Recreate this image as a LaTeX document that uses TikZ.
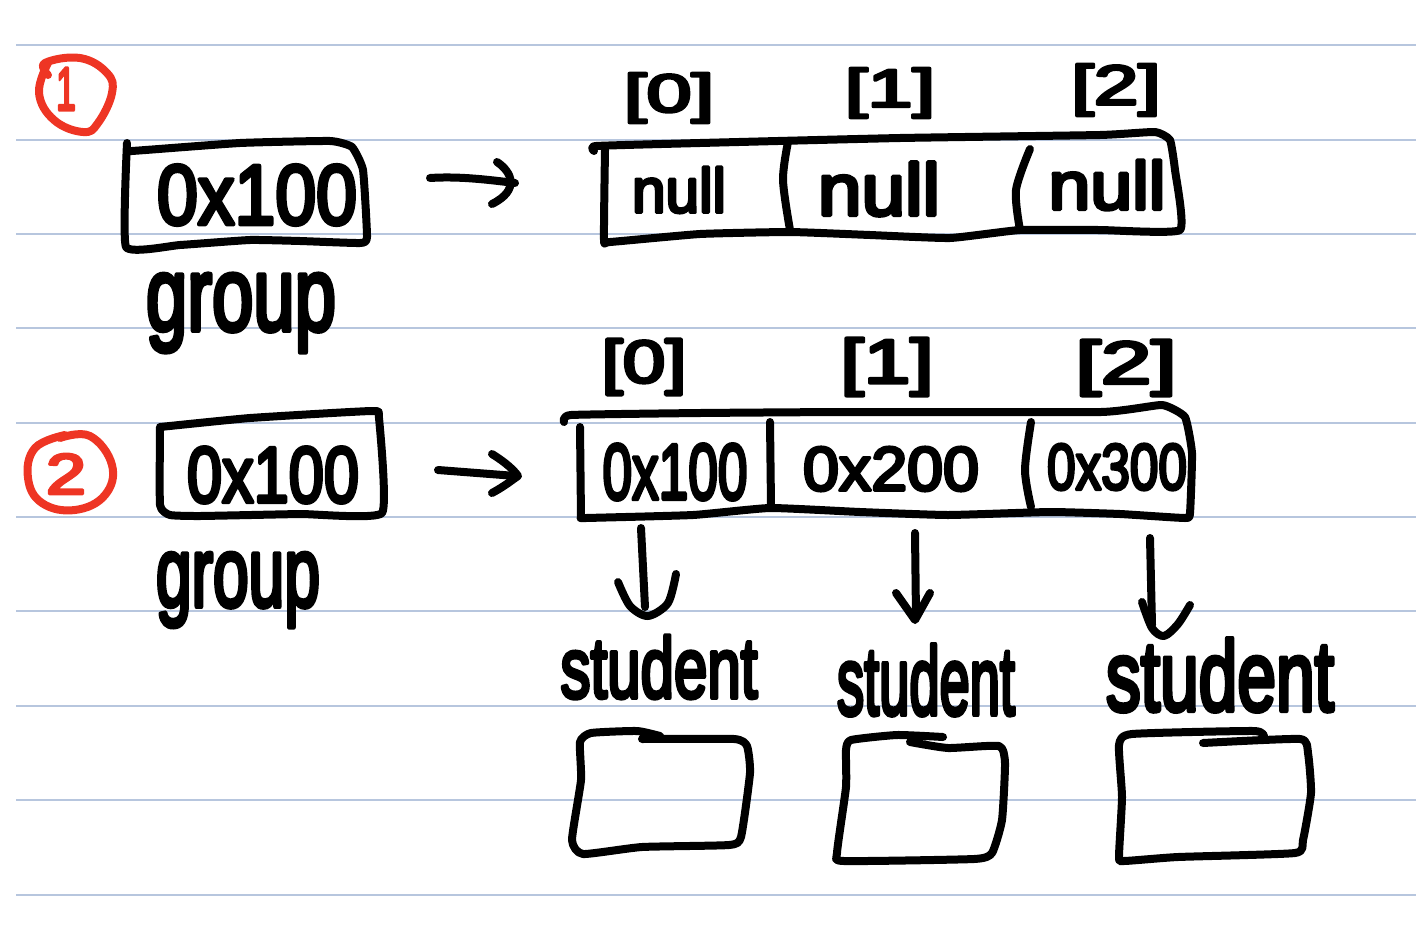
\documentclass[tikz,border=0pt]{standalone}
\usepackage{graphicx}
\usepackage{fontspec}
\setmainfont{Liberation Sans}
\definecolor{rule}{HTML}{B7C6DE}
\definecolor{redpen}{HTML}{EE3524}
\newcommand{\hw}[3]{\resizebox*{#1pt}{#2pt}{\special{pdf:code q 0 G 2 Tr 5 w 1 J 1 j}\scalebox{1}{#3}\special{pdf:code 0 Tr Q}}}
\newcommand{\hwr}[3]{\resizebox*{#1pt}{#2pt}{\special{pdf:code q 0.933 0.208 0.141 RG 2 Tr 5 w 1 J 1 j}\scalebox{1}{#3}\special{pdf:code 0 Tr Q}}}
\tikzset{
  pen/.style={draw=black,line width=8pt,line cap=round,line join=round},
  redstroke/.style={draw=redpen,line width=8pt,line cap=round,line join=round},
  ruled/.style={draw=rule,line width=1.3pt},
  hand/.style={inner sep=0pt,outer sep=0pt,text=black,font=\fontsize{100}{100}\selectfont},
  redhand/.style={inner sep=0pt,outer sep=0pt,text=redpen,font=\fontsize{100}{100}\selectfont}
}
\begin{document}
\begin{tikzpicture}[x=1pt,y=-1pt]
\useasboundingbox (0,0) rectangle (1416,932);
\foreach \yy in {45,140,234,328,423,517,611,706,800,895}
  \draw[ruled] (16,\yy) -- (1416,\yy);

% red marks
\draw[redstroke] plot[smooth,tension=0.7] coordinates {(48,75)(45,63)(80,58)(107,73)(112,93)(98,123)(83,132)(54,120)(39,93)(48,63)};
\node[redhand] (mone) at (66,89) {\hwr{20}{42}{1}};
\draw[redstroke] plot[smooth,tension=0.7] coordinates {(60,438)(90,436)(112,465)(105,495)(75,510)(42,503)(28,478)(35,448)(65,435)};
\node[redhand] (mtwo) at (66,474) {\hwr{40}{40}{2}};

% upper group box
\draw[pen] plot[smooth,tension=0.25] coordinates {(127,143)(127,150)(132,151)(240,143)(330,141)(352,147)(363,170)(367,237)(360,243)(300,241)(250,240)(180,245)(126,247)(127,143)};
\node[hand] (valA) at (257,195) {\hw{200}{60}{0x100}};
\node[hand] (grpA) at (241,313) {\hw{190}{78}{group}};

% upper arrow
\coordinate (aS) at (430,178);
\coordinate (aE) at (515,183);
\draw[pen] (aS) .. controls (460,176) and (490,180) .. (aE);
\draw[pen] (aE) ++(-18,-21) .. controls (512,172) and (520,190) .. (492,204);

% upper array
\draw[pen] plot[smooth,tension=0.25] coordinates {(594,151)(596,146)(700,143)(900,138)(1100,135)(1155,132)(1170,140)(1175,170)(1180,230)(1100,230)(1020,230)(950,238)(870,235)(790,232)(700,234)(610,242)(604,240)(605,150)};
\draw[pen] plot[smooth] coordinates {(788,142)(783,180)(790,230)};
\draw[pen] plot[smooth] coordinates {(1030,149)(1016,190)(1020,230)};
\node[hand] (nA) at (679,190) {\hw{94}{46}{null}};
\node[hand] (nB) at (879,189) {\hw{122}{54}{null}};
\node[hand] (nC) at (1107,185) {\hw{117}{50}{null}};
\node[hand] (iA) at (669,98) {\hw{90}{50}{[0]}};
\node[hand] (iB) at (890,93) {\hw{90}{50}{[1]}};
\node[hand] (iC) at (1116,90) {\hw{89}{52}{[2]}};

% lower group box
\draw[pen] plot[smooth,tension=0.25] coordinates {(160,427)(250,418)(372,411)(379,418)(382,513)(300,514)(200,516)(170,515)(160,505)(160,427)};
\node[hand] (valB) at (273,475) {\hw{172}{56}{0x100}};
\node[hand] (grpB) at (238,590) {\hw{164}{74}{group}};

% lower arrow
\coordinate (bS) at (438,470);
\coordinate (bE) at (516,476);
\draw[pen] (bS) -- (bE);
\draw[pen] (bE) ++(-24,-22) .. controls (505,462) and (514,470) .. (518,476) .. controls (512,480) and (505,486) .. (492,493);

% lower array
\draw[pen] plot[smooth,tension=0.25] coordinates {(564,422)(571,415)(700,413)(846,412)(1101,412)(1162,405)(1185,417)(1192,453)(1190,513)(1185,518)(1120,514)(1050,512)(948,515)(860,512)(770,508)(693,515)(586,518)(581,518)};
\draw[pen] (581,518) -- (580,427);
\draw[pen] (770,422) -- (771,505);
\draw[pen] plot[smooth] coordinates {(1031,422)(1025,470)(1031,507)};
\node[hand] (pA) at (675,472) {\hw{145}{56}{0x100}};
\node[hand] (pB) at (891,469) {\hw{176}{44}{0x200}};
\node[hand] (pC) at (1117,467) {\hw{140}{46}{0x300}};
\node[hand] (jA) at (644,367) {\hw{85}{56}{[0]}};
\node[hand] (jB) at (887,367) {\hw{93}{58}{[1]}};
\node[hand] (jC) at (1126,368) {\hw{101}{56}{[2]}};

% pointers
\coordinate (dA) at (641,528); \coordinate (eA) at (645,607);
\coordinate (dB) at (915,533); \coordinate (eB) at (916,617);
\coordinate (dC) at (1150,538); \coordinate (eC) at (1152,625);
\draw[pen] (dA) -- (eA);
\draw[pen] plot[smooth] coordinates {(618,582)(630,606)(648,616)(668,603)(676,574)};
\draw[pen] (dB) -- (eB);
\draw[pen] (896,593) -- (915,620) -- (930,593);
\draw[pen] (dC) -- (eC);
\draw[pen] plot[smooth] coordinates {(1142,602)(1152,628)(1164,636)(1178,624)(1190,605)};

% student labels
\node[hand] (sA) at (659,667) {\hw{197}{63}{student}};
\node[hand] (sB) at (926,680) {\hw{178}{71}{student}};
\node[hand] (sC) at (1220,675) {\hw{228}{73}{student}};

% student boxes
\draw[pen] plot[smooth,tension=0.3] coordinates {(660,736)(637,731)(591,733)(580,742)(581,780)(572,840)(583,854)(642,847)(729,845)(741,837)(750,773)(747,746)(734,739)(642,739)};
\draw[pen] plot[smooth,tension=0.3] coordinates {(943,737)(897,735)(851,740)(846,750)(846,787)(837,853)(844,861)(974,859)(992,853)(1002,820)(1005,763)(999,746)(948,748)(910,742)};
\draw[pen] plot[smooth,tension=0.3] coordinates {(1264,737)(1254,731)(1132,734)(1119,745)(1122,797)(1119,857)(1124,861)(1178,857)(1295,853)(1303,840)(1311,793)(1308,753)(1300,739)(1203,743)};
\end{tikzpicture}
\end{document}
